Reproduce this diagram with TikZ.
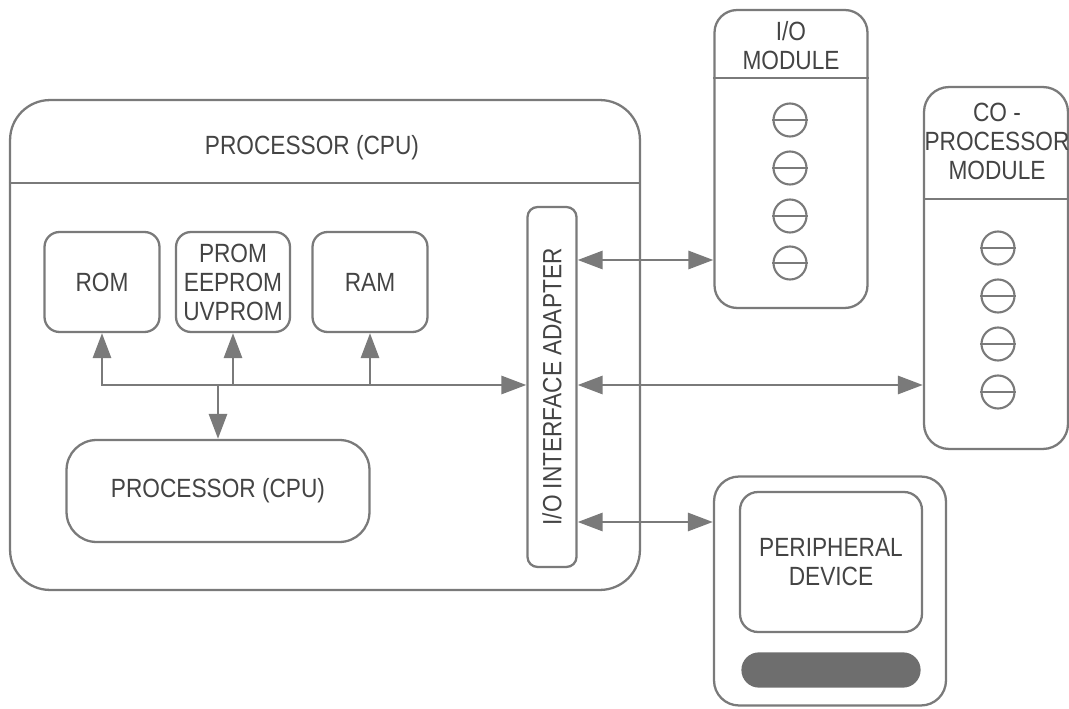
\documentclass[tikz,border=0pt]{standalone}
\usepackage{fontspec}
\setmainfont{Liberation Sans}[FakeStretch=0.86]
\usetikzlibrary{arrows.meta}
\definecolor{linegray}{HTML}{7A7A7A}
\definecolor{textgray}{HTML}{444444}
\definecolor{barfill}{HTML}{6E6E6E}
\tikzset{
	blk/.style = {draw=linegray, line width=1.3pt, rounded corners=0.3cm, inner sep=0pt},
	lbl/.style = {text=textgray, align=center, inner sep=0pt, font=\fontsize{15}{16.5}\selectfont},
	port/.style = {circle, draw=linegray, line width=1.2pt, minimum size=0.66cm, inner sep=0pt},
	link/.style = {draw=linegray, line width=1.7pt},
	bustip/.tip = {Triangle[length=0.5cm,width=0.36cm]}
}

\begin{document}
\begin{tikzpicture}[x=0.02cm, y=-0.02cm]
		\useasboundingbox (0,0) rectangle (1069,709);
		\node[blk, rounded corners=0.8cm, minimum width=12.6cm, minimum height=9.8cm] (cpu) at (325,345) {};
		\draw[link, line width=1.3pt] (cpu.west |- 0,183) -- (cpu.east |- 0,183);
		\node[lbl] (cputitle) at (312,148) {PROCESSOR (CPU)};
		\node[blk, minimum width=2.3cm, minimum height=2cm] (rom) at (102,282) {};
		\node[lbl] at (rom) {ROM};
		\node[blk, minimum width=2.28cm, minimum height=2cm] (prom) at (233,282) {};
		\node[lbl] at (prom) {PROM\\EEPROM\\UVPROM};
		\node[blk, minimum width=2.3cm, minimum height=2cm] (ram) at (370,282) {};
		\node[lbl] at (ram) {RAM};
		\node[blk, rounded corners=0.6cm, minimum width=6.06cm, minimum height=2.04cm] (core) at (218,491) {};
		\node[lbl] at (core) {PROCESSOR (CPU)};
		\node[blk, rounded corners=0.2cm, minimum width=0.98cm, minimum height=7.2cm] (ioa) at (552,387) {};
		\node[lbl, rotate=90] at (ioa) {I/O INTERFACE ADAPTER};
		\node[blk, rounded corners=0.45cm, minimum width=3.06cm, minimum height=5.96cm] (iom) at (791,159) {};
		\draw[link, line width=1.3pt] (iom.west |- 0,78) -- (iom.east |- 0,78);
		\node[lbl] (iomtitle) at (791,46) {I/O\\MODULE};
		\foreach \y in {120,168,216,263} {
			\node[port] (iop\y) at (790,\y) {};
			\draw[link, line width=1.2pt] (iop\y.west) -- (iop\y.east);
		}
		\node[blk, rounded corners=0.5cm, minimum width=2.88cm, minimum height=7.24cm] (cop) at (996,268) {};
		\draw[link, line width=1.3pt] (cop.west |- 0,199) -- (cop.east |- 0,199);
		\node[lbl] (coptitle) at (997,141) {CO -\\PROCESSOR\\MODULE};
		\foreach \y in {248,296,344,392} {
			\node[port] (cpp\y) at (998,\y) {};
			\draw[link, line width=1.2pt] (cpp\y.west) -- (cpp\y.east);
		}
		\node[blk, rounded corners=0.5cm, minimum width=4.64cm, minimum height=4.58cm] (per) at (830,591) {};
		\node[blk, rounded corners=0.36cm, minimum width=3.64cm, minimum height=2.8cm] (screen) at (831,562) {};
		\node[lbl] at (screen) {PERIPHERAL\\DEVICE};
		\node[blk, fill=barfill, draw=barfill, rounded corners=0.33cm, minimum width=3.54cm, minimum height=0.66cm] (bar) at (831,670) {};
		\coordinate (bus) at (102,385);
		\draw[link, bustip-bustip] (rom.south) -- (bus) -- (ioa.west |- bus);
		\draw[link, -bustip] (prom.south |- bus) -- (prom.south);
		\draw[link, -bustip] (ram.south |- bus) -- (ram.south);
		\draw[link, -bustip] (core.north |- bus) -- (core.north);
		\draw[link, bustip-bustip] (ioa.east |- 0,260) -- (iom.west |- 0,260);
		\draw[link, bustip-bustip] (ioa.east |- bus) -- (cop.west |- bus);
		\draw[link, bustip-bustip] (ioa.east |- 0,522) -- (per.west |- 0,522);
	\end{tikzpicture}
\end{document}
